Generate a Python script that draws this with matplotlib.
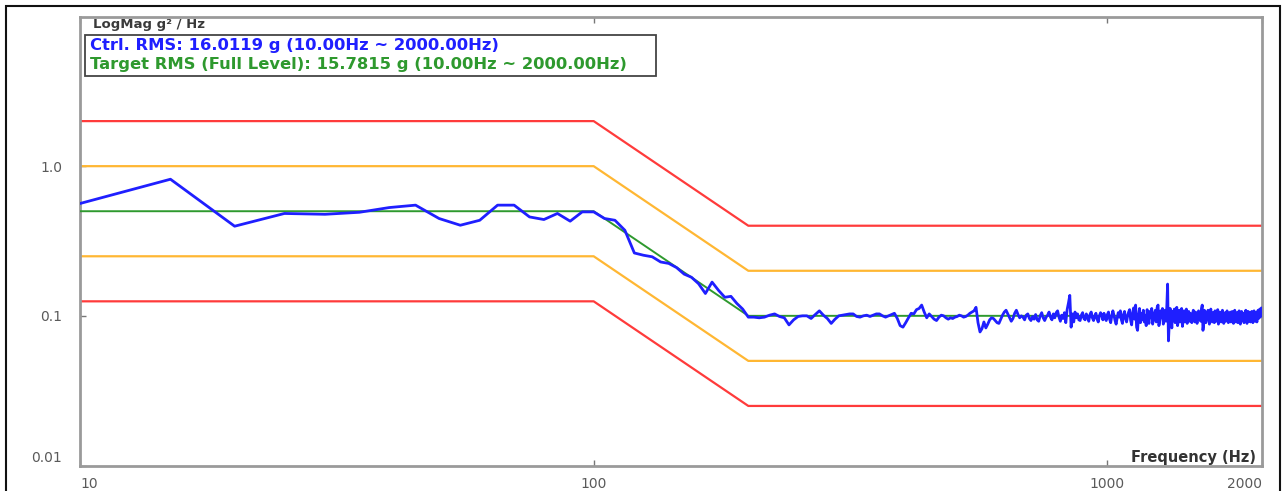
import numpy as np
import matplotlib
matplotlib.use("Agg")
import matplotlib.pyplot as plt
from matplotlib.patches import Rectangle

# ---------------- data ----------------
# profile breakpoints
prof_freq = [10, 100, 200, 2000]
target = [0.5, 0.5, 0.1, 0.1]
alarm_hi = [1.0, 1.0, 0.2, 0.2]
alarm_lo = [0.25, 0.25, 0.05, 0.05]
abort_hi = [2.0, 2.0, 0.4, 0.4]
abort_lo = [0.125, 0.125, 0.025, 0.025]

# control spectrum, 5 Hz resolution from 10 Hz to 2000 Hz
ctrl_start, ctrl_step = 10, 5
ctrl_10_100 = [0.563, 0.818, 0.397, 0.483, 0.477, 0.492, 0.529, 0.549, 0.447, 0.403,
               0.435, 0.549, 0.549, 0.458, 0.440, 0.483, 0.429, 0.495, 0.495]
ctrl_105_195 = [0.447, 0.435, 0.373, 0.263, 0.254, 0.248, 0.229, 0.224, 0.210, 0.190,
                0.181, 0.164, 0.141, 0.168, 0.148, 0.133, 0.135, 0.121, 0.111]
ctrl_200_300 = [0.098, 0.098, 0.097, 0.098, 0.101, 0.103, 0.099, 0.097, 0.087, 0.094,
                0.099, 0.100, 0.100, 0.096, 0.102, 0.108, 0.101, 0.096, 0.089, 0.095,
                0.100]
ctrl_305_500 = [0.101, 0.102, 0.103, 0.103, 0.099, 0.098, 0.100, 0.101, 0.099, 0.101,
                0.103, 0.103, 0.100, 0.098, 0.100, 0.102, 0.104, 0.096, 0.086, 0.084,
                0.090, 0.097, 0.104, 0.103, 0.110, 0.112, 0.118, 0.106, 0.097, 0.103,
                0.099, 0.095, 0.093, 0.098, 0.101, 0.100, 0.097, 0.095, 0.097, 0.096]
ctrl_505_1000 = [0.098, 0.099, 0.101, 0.100, 0.098, 0.099, 0.101, 0.104, 0.106, 0.108,
                 0.114, 0.090, 0.078, 0.082, 0.091, 0.083, 0.088, 0.094, 0.097, 0.096,
                 0.093, 0.090, 0.089, 0.095, 0.101, 0.106, 0.109, 0.103, 0.097, 0.092,
                 0.096, 0.104, 0.109, 0.102, 0.097, 0.100, 0.098, 0.094, 0.101, 0.103,
                 0.096, 0.093, 0.099, 0.095, 0.102, 0.094, 0.092, 0.100, 0.105, 0.097,
                 0.093, 0.098, 0.101, 0.106, 0.098, 0.094, 0.103, 0.097, 0.105, 0.108,
                 0.098, 0.092, 0.101, 0.096, 0.105, 0.090, 0.110, 0.122, 0.137, 0.084,
                 0.103, 0.091, 0.106, 0.097, 0.103, 0.094, 0.093, 0.101, 0.105, 0.096,
                 0.094, 0.103, 0.098, 0.092, 0.102, 0.106, 0.097, 0.093, 0.100, 0.104,
                 0.095, 0.091, 0.100, 0.105, 0.101, 0.094, 0.104, 0.096, 0.093, 0.102]
ctrl_1005_2000 = [0.106, 0.095, 0.090, 0.100, 0.108, 0.101, 0.093, 0.088, 0.097, 0.105,
                  0.098, 0.108, 0.094, 0.089, 0.102, 0.107, 0.096, 0.091, 0.100, 0.106,
                  0.110, 0.093, 0.087, 0.104, 0.113, 0.095, 0.118, 0.084, 0.080, 0.101,
                  0.112, 0.090, 0.104, 0.094, 0.109, 0.091, 0.101, 0.086, 0.110, 0.096,
                  0.089, 0.107, 0.097, 0.112, 0.088, 0.095, 0.104, 0.109, 0.091, 0.114,
                  0.118, 0.086, 0.093, 0.108, 0.097, 0.112, 0.088, 0.102, 0.109, 0.092,
                  0.113, 0.163, 0.068, 0.090, 0.112, 0.095, 0.083, 0.107, 0.097, 0.111,
                  0.090, 0.102, 0.114, 0.086, 0.095, 0.109, 0.091, 0.104, 0.112, 0.085,
                  0.096, 0.108, 0.091, 0.103, 0.111, 0.089, 0.098, 0.107, 0.092, 0.104,
                  0.094, 0.090, 0.103, 0.109, 0.095, 0.091, 0.106, 0.098, 0.089, 0.103,
                  0.108, 0.094, 0.104, 0.092, 0.112, 0.118, 0.080, 0.088, 0.109, 0.096,
                  0.090, 0.105, 0.094, 0.109, 0.097, 0.088, 0.103, 0.111, 0.094, 0.091,
                  0.105, 0.096, 0.090, 0.108, 0.097, 0.092, 0.103, 0.110, 0.088, 0.096,
                  0.106, 0.094, 0.091, 0.103, 0.109, 0.095, 0.089, 0.098, 0.105, 0.092,
                  0.097, 0.108, 0.094, 0.090, 0.104, 0.096, 0.106, 0.091, 0.098, 0.107,
                  0.094, 0.089, 0.103, 0.109, 0.096, 0.091, 0.105, 0.098, 0.090, 0.104,
                  0.108, 0.094, 0.088, 0.098, 0.107, 0.093, 0.103, 0.096, 0.090, 0.105,
                  0.097, 0.109, 0.094, 0.089, 0.103, 0.107, 0.092, 0.098, 0.105, 0.091,
                  0.096, 0.107, 0.094, 0.090, 0.103, 0.108, 0.096, 0.092, 0.105, 0.098,
                  0.091, 0.103, 0.109, 0.096, 0.104, 0.111, 0.098, 0.107, 0.113, 0.110]

x_ticks = [10, 100, 1000, 2000]
x_ticklabels = ["10", "100", "1000", "2000"]
y_ticks = [0.01, 0.1, 1.0]
y_ticklabels = ["0.01", "0.1", "1.0"]

ctrl_text = "Ctrl. RMS: 16.0119 g (10.00Hz ~ 2000.00Hz)"
target_text = "Target RMS (Full Level): 15.7815 g (10.00Hz ~ 2000.00Hz)"
y_title = "LogMag g² / Hz"
x_title = "Frequency (Hz)"

ctrl_vals = np.array(ctrl_10_100 + ctrl_105_195 + ctrl_200_300 +
                     ctrl_305_500 + ctrl_505_1000 + ctrl_1005_2000)
ctrl_freq = ctrl_start + ctrl_step * np.arange(len(ctrl_vals))

# ---------------- figure ----------------
W, H = 1283, 491
fig = plt.figure(figsize=(W / 100, H / 100), dpi=100)
fig.patch.set_facecolor("white")

L, R, T, B = 80, 1262, 16.5, 465.5
ax = fig.add_axes([L / W, 1 - B / H, (R - L) / W, (B - T) / H])
ax.set_xscale("log")
ax.set_yscale("log")
ax.set_xlim(10, 2000)
ax.set_ylim(0.01, 10)

red = "#ff3b3b"
orange = "#ffb733"
green = "#2e992e"
blue = "#1f1fff"

ax.plot(prof_freq, abort_hi, color=red, lw=1.6, zorder=2)
ax.plot(prof_freq, abort_lo, color=red, lw=1.6, zorder=2)
ax.plot(prof_freq, alarm_hi, color=orange, lw=1.6, zorder=2)
ax.plot(prof_freq, alarm_lo, color=orange, lw=1.6, zorder=2)
ax.plot(prof_freq, target, color=green, lw=1.4, zorder=3)
ax.plot(ctrl_freq, ctrl_vals, color=blue, lw=2.0, zorder=4)

for s in ax.spines.values():
    s.set_color("#9a9a9a")
    s.set_linewidth(2.0)

ax.minorticks_off()
ax.set_xticks(x_ticks)
ax.set_xticklabels(x_ticklabels)
ax.set_yticks(y_ticks)
ax.set_yticklabels(y_ticklabels)
ax.tick_params(axis="both", which="major", direction="in", length=4, width=1,
               color="#777777", labelcolor="#5a5a5a", labelsize=10)
ax.tick_params(axis="x", pad=8, top=True)
ax.tick_params(axis="y", pad=13)
for lab in ax.get_xticklabels() + ax.get_yticklabels():
    lab.set_family("DejaVu Sans")
xl = ax.get_xticklabels()
xl[0].set_horizontalalignment("left")
xl[-1].set_horizontalalignment("right")
ax.get_yticklabels()[0].set_verticalalignment("bottom")

# axis titles inside plot
fig.text(93 / W, 1 - 28 / H, y_title, ha="left", va="baseline", fontsize=9.5,
         fontweight="bold", color="#3a3a3a", family="DejaVu Sans")
ax.text(1 - 6 / (R - L), (B - 462) / (B - T), x_title, transform=ax.transAxes,
        ha="right", va="baseline", fontsize=10.5, fontweight="bold", color="#333333",
        family="DejaVu Sans")

# RMS box
bx0, bx1, by0, by1 = 85, 656, 35.5, 76
fig.patches.append(Rectangle((bx0 / W, 1 - by1 / H), (bx1 - bx0) / W, (by1 - by0) / H,
                             transform=fig.transFigure, fill=True, facecolor="white",
                             edgecolor="#444444", lw=1.3, zorder=5))
fig.text(90 / W, 1 - 50.3 / H, ctrl_text, ha="left", va="baseline", fontsize=11.8,
         fontweight="bold", color=blue, family="DejaVu Sans", zorder=6)
fig.text(90 / W, 1 - 68.7 / H, target_text, ha="left", va="baseline", fontsize=11.8,
         fontweight="bold", color=green, family="DejaVu Sans", zorder=6)

# outer frame
fig.patches.append(Rectangle((6 / W, -0.05), (1280 - 6) / W, 1.05 - 6 / H,
                             transform=fig.transFigure, fill=False,
                             edgecolor="#111111", lw=1.5))

fig.savefig("out.png", dpi=100, facecolor="white")
